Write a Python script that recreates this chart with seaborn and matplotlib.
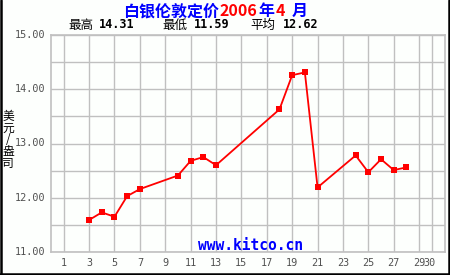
import matplotlib
matplotlib.use("Agg")
import matplotlib.pyplot as plt
import seaborn as sns
import pandas as pd
from matplotlib.lines import Line2D

days = [3, 4, 5, 6, 7, 10, 11, 12, 13, 18, 19, 20, 21, 24, 25, 26, 27, 28]
prices = [11.59, 11.73, 11.65, 12.03, 12.16, 12.41, 12.68, 12.75, 12.60,
          13.63, 14.26, 14.31, 12.19, 12.78, 12.47, 12.71, 12.51, 12.56]
xticks = [1, 3, 5, 7, 9, 11, 13, 15, 17, 19, 21, 23, 25, 27, 29, 30]
xticklabels = ["1", "3", "5", "7", "9", "11", "13", "15", "17", "19", "21", "23", "25", "27", "29", "30"]
yticks = [11.0, 11.5, 12.0, 12.5, 13.0, 13.5, 14.0, 14.5, 15.0]
ylabel_ticks = [11.0, 12.0, 13.0, 14.0, 15.0]
ylabel_chars = ["美", "元", "/", "盎", "司"]
stat_high, stat_low, stat_avg = "14.31", "11.59", "12.62"

sns.set_theme(style="white")
plt.rcParams['font.family'] = ['Noto Sans CJK SC', 'DejaVu Sans']

df = pd.DataFrame({"day": days, "price": prices})

fig = plt.figure(figsize=(4.5, 2.75), dpi=100, facecolor="#fdfffd")
ax = fig.add_axes([51/450, 1-252/275, (444.5-51)/450, (252-35)/275])
ax.set_facecolor("#fdfffd")

sns.lineplot(data=df, x="day", y="price", ax=ax, color="#ff0000", lw=1.3,
             marker="s", markersize=5, markeredgewidth=0, zorder=3)

ax.set_xlim(0, 31)
ax.set_ylim(11, 15)
ax.set_xticks(xticks)
ax.set_yticks(yticks)
ax.grid(True, color="#c0c0c0", lw=1.0)
ax.tick_params(length=0)
ax.set_xticklabels([])
ax.set_yticklabels([])
ax.set_xlabel("")
ax.set_ylabel("")
for s in ax.spines.values():
    s.set_color("#c0c0c0")
    s.set_linewidth(1.2)

mono = ['DejaVu Sans Mono']
tick_color = "#505050"
for t, lab in zip(xticks, xticklabels):
    xo = -0.15 if lab == "30" else 0
    ax.text(t + xo, 10.79, lab, ha="center", va="center", fontsize=7.3,
            family=mono, color=tick_color)
for v in ylabel_ticks:
    ax.text(-0.45, v, f"{v:.2f}", ha="right", va="center", fontsize=7.3,
            family=mono, color=tick_color)

# y label stacked characters
for i, ch in enumerate(ylabel_chars):
    fig.text(8/450, 1-(117 + i*11.5)/275, ch, ha="center", va="center",
             fontsize=8.5, color="black")

# watermark
ax.text(15.7, 11.12, "www.kitco.cn", ha="center", va="center", fontsize=10.5,
        family=['DejaVu Sans Mono'], weight="bold", color="#0000ff")

# title in pieces
fig.canvas.draw()
renderer = fig.canvas.get_renderer()
pieces = [("白银伦敦定价", "#0000ff"), ("2006", "#ff0000"), ("年", "#0000ff"),
          ("4", "#ff0000"), ("月", "#0000ff")]
x = 123
ty = 1 - 11/275
for txt, col in pieces:
    t = fig.text(x/450, ty, txt, ha="left", va="center", fontsize=11.5,
                 weight="bold", color=col,
                 family=['Noto Sans CJK SC', 'DejaVu Sans'])
    bb = t.get_window_extent(renderer)
    x += bb.width + (1 if txt != "4" else 6)

# stats line
sy = 1 - 25/275
stats = [(68, "最高", stat_high, 99), (162, "最低", stat_low, 194), (250, "平均", stat_avg, 283)]
for x0, lab, val, x1 in stats:
    fig.text(x0/450, sy, lab, ha="left", va="center", fontsize=9, color="black")
    fig.text(x1/450, sy, val, ha="left", va="center", fontsize=8.5, color="black",
             family=mono, weight="bold")

# figure border (left, right, bottom)
for xs, ys in [([1/450, 1/450], [0, 1]), ([449/450, 449/450], [0, 1]), ([0, 1], [1/275, 1/275])]:
    fig.add_artist(Line2D(xs, ys, transform=fig.transFigure, color="black", lw=1.8))

fig.savefig("out.png", dpi=100, facecolor=fig.get_facecolor())
